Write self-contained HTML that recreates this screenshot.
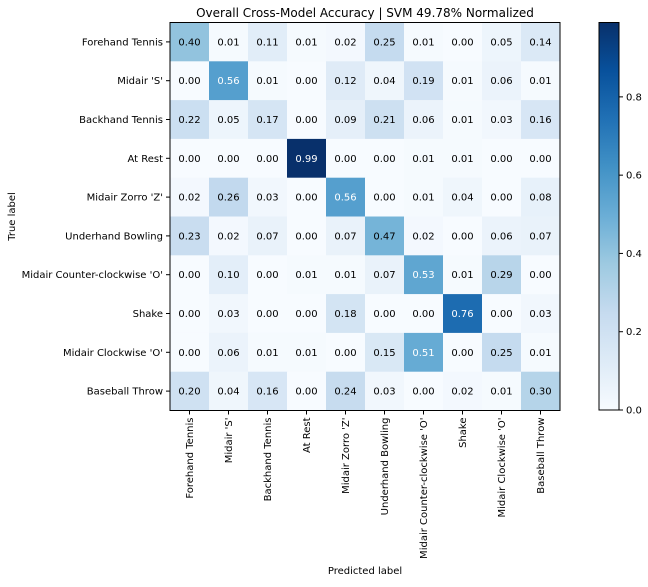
<!DOCTYPE html>
<html><head><meta charset="utf-8"><style>
body{margin:0;background:#fff;}
text{font-family:"DejaVu Sans","Liberation Sans",sans-serif;}
</style></head><body>
<svg id="c" width="648" height="582" xmlns="http://www.w3.org/2000/svg"></svg>
<script>
const labels=["Forehand Tennis","Midair 'S'","Backhand Tennis","At Rest","Midair Zorro 'Z'","Underhand Bowling","Midair Counter-clockwise 'O'","Shake","Midair Clockwise 'O'","Baseball Throw"];
const row0=[0.40,0.01,0.11,0.01,0.02,0.25,0.01,0.00,0.05,0.14];
const row1=[0.00,0.56,0.01,0.00,0.12,0.04,0.19,0.01,0.06,0.01];
const row2=[0.22,0.05,0.17,0.00,0.09,0.21,0.06,0.01,0.03,0.16];
const row3=[0.00,0.00,0.00,0.99,0.00,0.00,0.01,0.01,0.00,0.00];
const row4=[0.02,0.26,0.03,0.00,0.56,0.00,0.01,0.04,0.00,0.08];
const row5=[0.23,0.02,0.07,0.00,0.07,0.47,0.02,0.00,0.06,0.07];
const row6=[0.00,0.10,0.00,0.01,0.01,0.07,0.53,0.01,0.29,0.00];
const row7=[0.00,0.03,0.00,0.00,0.18,0.00,0.00,0.76,0.00,0.03];
const row8=[0.00,0.06,0.01,0.01,0.00,0.15,0.51,0.00,0.25,0.01];
const row9=[0.20,0.04,0.16,0.00,0.24,0.03,0.00,0.02,0.01,0.30];
const matrix=[row0,row1,row2,row3,row4,row5,row6,row7,row8,row9];
const cbTicks=[0.0,0.2,0.4,0.6,0.8];
const NS="http://www.w3.org/2000/svg";
const svg=document.getElementById('c');
const L=170,T=22.5,W=390,H=388,n=10;
const cw=W/n,ch=H/n;
let vmax=0;matrix.forEach(r=>r.forEach(v=>{if(v>vmax)vmax=v;}));
const stops=["#f7fbff","#deebf7","#c6dbef","#9ecae1","#6baed6","#4292c6","#2171b5","#08519c","#08306b"];
function hx(h){return [1,3,5].map(i=>parseInt(h.substr(i,2),16));}
function cmap(t){t=Math.max(0,Math.min(1,t));const p=t*8,i=Math.min(7,Math.floor(p)),f=p-i;const a=hx(stops[i]),b=hx(stops[i+1]);return `rgb(${a.map((v,k)=>Math.round(v+(b[k]-v)*f)).join(',')})`;}
function el(tag,attrs,txt){const e=document.createElementNS(NS,tag);for(const k in attrs)e.setAttribute(k,attrs[k]);if(txt!==undefined)e.textContent=txt;svg.appendChild(e);return e;}
const xS=j=>L+j*cw, yS=i=>T+i*ch;
matrix.forEach((r,i)=>r.forEach((v,j)=>{
 const rc=el('rect',{x:xS(j),y:yS(i),width:cw+0.3,height:ch+0.3,fill:cmap(v/vmax)});
 
 
 const t=el('text',{x:xS(j)+cw/2,y:yS(i)+ch/2+3.5,'text-anchor':'middle','font-size':10,fill:v>vmax/2?'#fff':'#000'},v.toFixed(2));
 
 
}));
const fr=el('rect',{x:L,y:T,width:W,height:H,fill:'none',stroke:'#000','stroke-width':1});


labels.forEach((lb,i)=>{
 const y=yS(i)+ch/2;
 el('line',{x1:L-4,x2:L,y1:y,y2:y,stroke:'#000'});
 const t=el('text',{x:L-7,y:y+3.5,'text-anchor':'end','font-size':10},lb);
 
 
 const x=xS(i)+cw/2;
 el('line',{x1:x,x2:x,y1:T+H,y2:T+H+4,stroke:'#000'});
 const t2=el('text',{x:x+3.5,y:T+H+7,'text-anchor':'end','font-size':10,transform:`rotate(-90 ${x+3.5} ${T+H+7})`},lb);
 
 
});
const ti=el('text',{x:L+W/2,y:17,'text-anchor':'middle','font-size':12},'Overall Cross-Model Accuracy | SVM 49.78% Normalized');


const yl=el('text',{x:15,y:T+H/2,'text-anchor':'middle','font-size':10,transform:`rotate(-90 15 ${T+H/2})`},'True label');


const xl=el('text',{x:L+W/2,y:574,'text-anchor':'middle','font-size':10},'Predicted label');


// colorbar
const CX=599,CW=20,CT=22.5,CB=410;
const g=document.createElementNS(NS,'linearGradient');g.setAttribute('id','grad');g.setAttribute('x1','0');g.setAttribute('y1','1');g.setAttribute('x2','0');g.setAttribute('y2','0');
stops.forEach((s,k)=>{const st=document.createElementNS(NS,'stop');st.setAttribute('offset',k/8);st.setAttribute('stop-color',s);g.appendChild(st);});
const defs=document.createElementNS(NS,'defs');defs.appendChild(g);svg.appendChild(defs);
const cb=el('rect',{x:CX,y:CT,width:CW,height:CB-CT,fill:'url(#grad)',stroke:'#000','stroke-width':1});


const cy=v=>CB-(v/vmax)*(CB-CT);
cbTicks.forEach(v=>{
 el('line',{x1:CX+CW,x2:CX+CW+4,y1:cy(v),y2:cy(v),stroke:'#000'});
 const t=el('text',{x:CX+CW+7,y:cy(v)+3.5,'font-size':10},v.toFixed(1));
 
 
});
</script>
</body></html>
